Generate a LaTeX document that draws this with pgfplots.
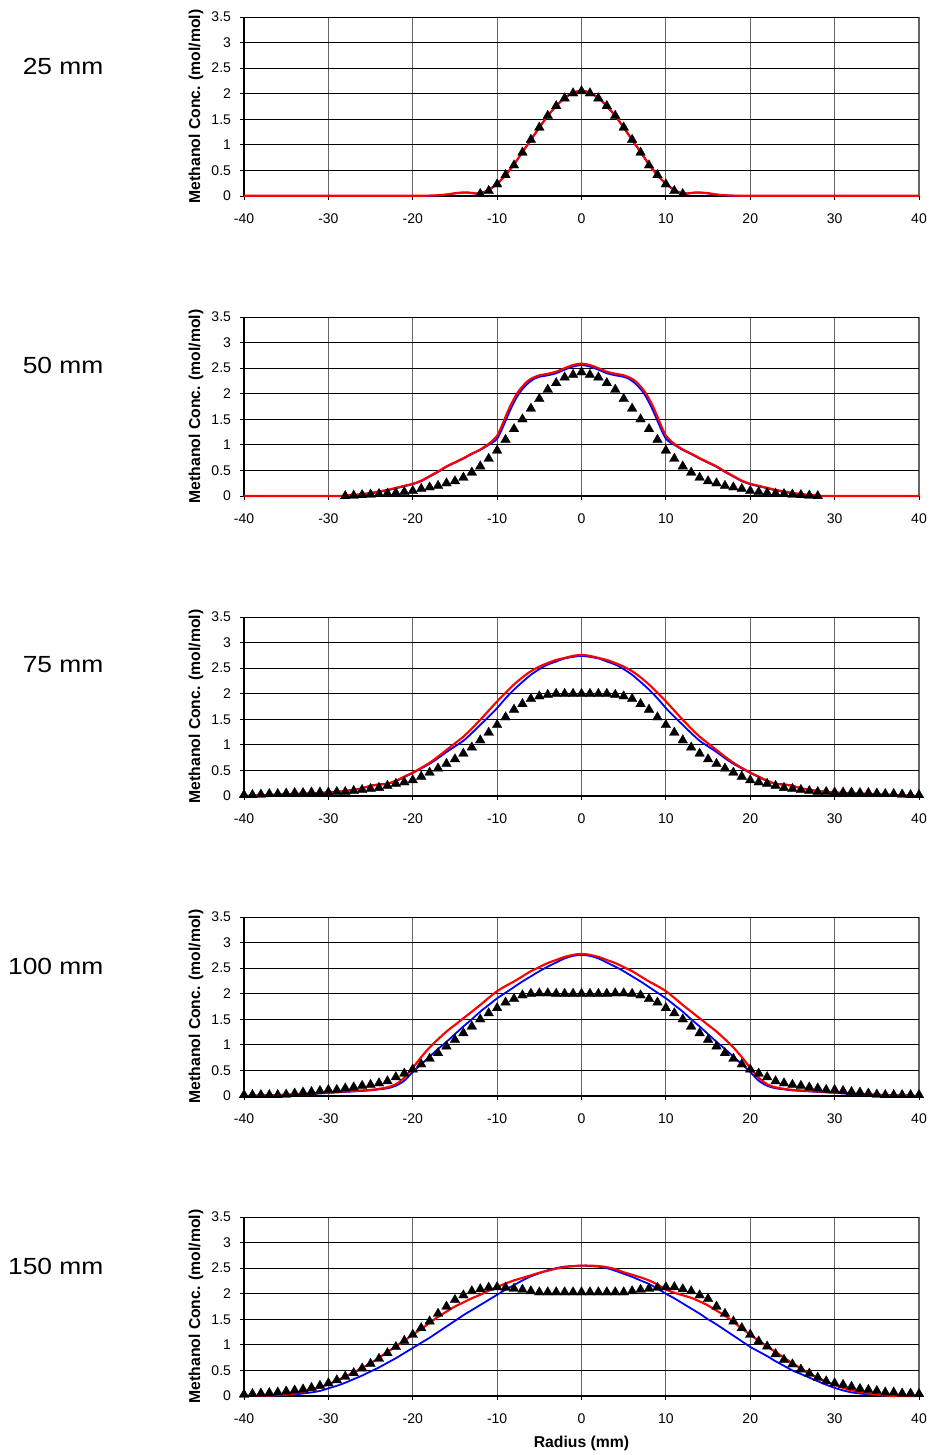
\documentclass[border=0pt]{standalone}
\usepackage{fontspec}
\setmainfont{Liberation Sans}
\usepackage{pgfplots}
\pgfplotsset{compat=1.18}

\definecolor{simred}{RGB}{255,0,0}
\definecolor{simblue}{RGB}{0,0,255}

% height label to the left of each panel
\tikzset{tag/.style={anchor=east, xscale=1.13, font=\fontsize{17.5pt}{20pt}\selectfont}}

% one panel: radial profile of methanol concentration at a given height
\pgfplotsset{
  panel/.style={
    scale only axis,
    width=506.25pt, height=134.25pt,
    anchor=south west,
    xmin=-40, xmax=40, ymin=0, ymax=3.5,
    xtick={-40,-30,...,40},
    ytick={0,0.5,1,1.5,2,2.5,3,3.5},
    yticklabels={0,0.5,1,1.5,2,2.5,3,3.5},
    axis lines=left,
    axis line style={-, black, line width=0.8pt},
    tick align=outside,
    major tick length=3pt,
    tick style={black, line width=0.6pt},
    grid=major,
    x grid style={black!60, line width=0.8pt},
    y grid style={black, line width=0.6pt},
    /pgf/number format/assume math mode=true,
    ticklabel style={font=\fontsize{10.5pt}{12pt}\selectfont},
    xticklabel style={yshift=-7pt},
    yticklabel style={xshift=-3.25pt},
    ylabel={Methanol Conc. (mol/mol)},
    ylabel style={at={(axis description cs:-0.0711,0.5)}, anchor=center,
      rotate=0, font=\bfseries\fontsize{11.8pt}{13pt}\selectfont},
    clip=false,
  },
  blueline/.style={simblue, line width=1.35pt, no markers, smooth},
  redline/.style={simred, line width=1.6pt, no markers, smooth},
  meas/.style={only marks, mark=triangle*, mark size=4.2pt,
    mark options={fill=black, draw=black, line width=0.2pt}},
}

\begin{document}
\begin{tikzpicture}
\useasboundingbox (0pt,0pt) rectangle (697.5pt,-1091.25pt);

% ---------------- 25 mm ----------------
\node[tag] at (81.5pt,-49.5pt) {25 mm};
\begin{axis}[panel, at={(183pt,-147pt)}]
\addplot[blueline] coordinates {
(-40,0.0)(-30,0.0)(-20,0.0)(-18,0.003)(-17,0.01)(-16,0.025)(-15,0.05)(-14,0.065)(-13.5,0.065)(-13,0.055)(-12.5,0.045)(-12,0.055)(-11.5,0.075)(-11,0.115)(-10,0.235)(-9,0.405)(-8,0.615)(-7,0.855)(-6,1.095)(-5,1.335)(-4,1.565)(-3,1.755)(-2,1.915)(-1,2.015)(0,2.055)
(1,2.015)(2,1.915)(3,1.755)(4,1.565)(5,1.335)(6,1.095)(7,0.855)(8,0.615)(9,0.405)(10,0.235)(11,0.115)(11.5,0.075)(12,0.055)(12.5,0.045)(13,0.055)(13.5,0.065)(14,0.065)(15,0.05)(16,0.025)(17,0.01)(18,0.003)(20,0.0)(30,0.0)(40,0.0)};
\addplot[redline] coordinates {
(-40,0.005)(-30,0.005)(-20,0.005)(-18,0.008)(-17,0.015)(-16,0.03)(-15,0.055)(-14,0.07)(-13.5,0.07)(-13,0.06)(-12.5,0.05)(-12,0.06)(-11.5,0.08)(-11,0.12)(-10,0.24)(-9,0.41)(-8,0.62)(-7,0.86)(-6,1.10)(-5,1.34)(-4,1.57)(-3,1.76)(-2,1.92)(-1,2.02)(0,2.06)
(1,2.02)(2,1.92)(3,1.76)(4,1.57)(5,1.34)(6,1.10)(7,0.86)(8,0.62)(9,0.41)(10,0.24)(11,0.12)(11.5,0.08)(12,0.06)(12.5,0.05)(13,0.06)(13.5,0.07)(14,0.07)(15,0.055)(16,0.03)(17,0.015)(18,0.008)(20,0.005)(30,0.005)(40,0.005)};
\addplot[meas] coordinates {
(-12,0.04)(-11,0.10)(-10,0.23)(-9,0.41)(-8,0.60)(-7,0.85)(-6,1.10)(-5,1.34)(-4,1.57)(-3,1.76)(-2,1.91)(-1,2.01)(0,2.05)
(1,2.01)(2,1.91)(3,1.76)(4,1.57)(5,1.34)(6,1.10)(7,0.85)(8,0.60)(9,0.41)(10,0.23)(11,0.10)(12,0.04)};
\end{axis}

% ---------------- 50 mm ----------------
\node[tag] at (81.5pt,-273.75pt) {50 mm};
\begin{axis}[panel, at={(183pt,-372pt)}]
\addplot[blueline] coordinates {
(-40,0.0)(-29,0.0)(-28,0.005)(-27,0.015)(-26,0.03)(-25,0.05)(-24,0.08)(-23,0.11)(-22,0.15)(-21,0.19)(-20,0.23)(-19,0.29)(-18,0.38)(-17,0.47)(-16,0.57)(-15,0.65)(-14,0.73)(-13,0.82)(-12,0.90)(-11,1.00)(-10.5,1.05)(-10,1.12)(-9.5,1.28)(-9,1.47)(-8.5,1.66)(-8,1.83)(-7.5,1.98)(-7,2.09)(-6.5,2.18)(-6,2.25)(-5.5,2.30)(-5,2.33)(-4,2.36)(-3,2.40)(-2,2.47)(-1,2.53)(0,2.56)
(1,2.53)(2,2.47)(3,2.40)(4,2.36)(5,2.33)(5.5,2.30)(6,2.25)(6.5,2.18)(7,2.09)(7.5,1.98)(8,1.83)(8.5,1.66)(9,1.47)(9.5,1.28)(10,1.12)(10.5,1.05)(11,1.00)(12,0.90)(13,0.82)(14,0.73)(15,0.65)(16,0.57)(17,0.47)(18,0.38)(19,0.29)(20,0.23)(21,0.19)(22,0.15)(23,0.11)(24,0.08)(25,0.05)(26,0.03)(27,0.015)(28,0.005)(29,0.0)(40,0.0)};
\addplot[redline] coordinates {
(-40,0.0)(-29,0.0)(-28,0.01)(-27,0.02)(-26,0.04)(-25,0.06)(-24,0.09)(-23,0.12)(-22,0.16)(-21,0.20)(-20,0.24)(-19,0.30)(-18,0.39)(-17,0.48)(-16,0.58)(-15,0.66)(-14,0.74)(-13,0.83)(-12,0.91)(-11,1.02)(-10.5,1.09)(-10,1.18)(-9.5,1.35)(-9,1.55)(-8.5,1.74)(-8,1.90)(-7.5,2.04)(-7,2.14)(-6.5,2.23)(-6,2.29)(-5.5,2.33)(-5,2.36)(-4,2.39)(-3,2.43)(-2,2.50)(-1,2.56)(0,2.59)
(1,2.56)(2,2.50)(3,2.43)(4,2.39)(5,2.36)(5.5,2.33)(6,2.29)(6.5,2.23)(7,2.14)(7.5,2.04)(8,1.90)(8.5,1.74)(9,1.55)(9.5,1.35)(10,1.18)(10.5,1.09)(11,1.02)(12,0.91)(13,0.83)(14,0.74)(15,0.66)(16,0.58)(17,0.48)(18,0.39)(19,0.30)(20,0.24)(21,0.20)(22,0.16)(23,0.12)(24,0.09)(25,0.06)(26,0.04)(27,0.02)(28,0.01)(29,0.0)(40,0.0)};
\addplot[meas] coordinates {
(-28,0.00)(-27,0.01)(-26,0.02)(-25,0.03)(-24,0.04)(-23,0.05)(-22,0.06)(-21,0.08)(-20,0.10)(-19,0.14)(-18,0.17)(-17,0.20)(-16,0.25)(-15,0.29)(-14,0.36)(-13,0.46)(-12,0.58)(-11,0.73)(-10,0.89)(-9,1.10)(-8,1.31)(-7,1.50)(-6,1.71)(-5,1.90)(-4,2.08)(-3,2.21)(-2,2.32)(-1,2.37)(0,2.42)
(1,2.37)(2,2.32)(3,2.21)(4,2.08)(5,1.90)(6,1.71)(7,1.50)(8,1.31)(9,1.10)(10,0.89)(11,0.73)(12,0.58)(13,0.46)(14,0.36)(15,0.29)(16,0.25)(17,0.20)(18,0.17)(19,0.14)(20,0.10)(21,0.08)(22,0.06)(23,0.05)(24,0.04)(25,0.03)(26,0.02)(27,0.01)(28,0.00)};
\end{axis}

% ---------------- 75 mm ----------------
\node[tag] at (81.5pt,-498.75pt) {75 mm};
\begin{axis}[panel, at={(183pt,-597pt)}]
\addplot[blueline] coordinates {
(-40,0.0)(-37,0.02)(-34,0.04)(-31,0.06)(-29,0.08)(-28,0.10)(-27,0.12)(-26,0.15)(-25,0.20)(-24,0.23)(-23,0.24)(-22,0.29)(-21,0.37)(-20,0.45)(-19,0.54)(-18,0.63)(-17,0.74)(-16,0.86)(-15,0.97)(-14,1.08)(-13,1.23)(-12,1.39)(-11,1.55)(-10,1.72)(-9,1.91)(-8,2.08)(-7,2.23)(-6,2.37)(-5,2.48)(-4,2.57)(-3,2.63)(-2,2.69)(-1,2.72)(0,2.74)
(1,2.72)(2,2.69)(3,2.63)(4,2.57)(5,2.48)(6,2.37)(7,2.23)(8,2.08)(9,1.91)(10,1.72)(11,1.55)(12,1.39)(13,1.23)(14,1.08)(15,0.97)(16,0.86)(17,0.74)(18,0.63)(19,0.54)(20,0.45)(21,0.37)(22,0.29)(23,0.24)(24,0.23)(25,0.20)(26,0.15)(27,0.12)(28,0.10)(29,0.08)(31,0.06)(34,0.04)(37,0.02)(40,0.0)};
\addplot[redline] coordinates {
(-40,0.0)(-37,0.02)(-34,0.04)(-31,0.06)(-29,0.08)(-28,0.10)(-27,0.12)(-26,0.15)(-25,0.20)(-24,0.22)(-23,0.24)(-22,0.30)(-21,0.38)(-20,0.46)(-19,0.55)(-18,0.65)(-17,0.77)(-16,0.90)(-15,1.03)(-14,1.16)(-13,1.32)(-12,1.49)(-11,1.67)(-10,1.85)(-9,2.02)(-8,2.18)(-7,2.32)(-6,2.44)(-5,2.53)(-4,2.60)(-3,2.66)(-2,2.70)(-1,2.74)(0,2.76)
(1,2.74)(2,2.70)(3,2.66)(4,2.60)(5,2.53)(6,2.44)(7,2.32)(8,2.18)(9,2.02)(10,1.85)(11,1.67)(12,1.49)(13,1.32)(14,1.16)(15,1.03)(16,0.90)(17,0.77)(18,0.65)(19,0.55)(20,0.46)(21,0.38)(22,0.30)(23,0.24)(24,0.22)(25,0.20)(26,0.15)(27,0.12)(28,0.10)(29,0.08)(31,0.06)(34,0.04)(37,0.02)(40,0.0)};
\addplot[meas] coordinates {
(-40,0.02)(-39,0.02)(-38,0.03)(-37,0.04)(-36,0.04)(-35,0.05)(-34,0.06)(-33,0.06)(-32,0.07)(-31,0.07)(-30,0.07)(-29,0.08)(-28,0.08)(-27,0.10)(-26,0.12)(-25,0.14)(-24,0.16)(-23,0.20)(-22,0.24)(-21,0.27)(-20,0.31)(-19,0.38)(-18,0.46)(-17,0.54)(-16,0.63)(-15,0.72)(-14,0.83)(-13,0.95)(-12,1.09)(-11,1.24)(-10,1.39)(-9,1.54)(-8,1.69)(-7,1.80)(-6,1.90)(-5,1.95)(-4,1.98)(-3,2.00)(-2,2.00)(-1,2.00)(0,2.00)
(1,2.00)(2,2.00)(3,2.00)(4,1.98)(5,1.95)(6,1.90)(7,1.80)(8,1.69)(9,1.54)(10,1.39)(11,1.24)(12,1.09)(13,0.95)(14,0.83)(15,0.72)(16,0.63)(17,0.54)(18,0.46)(19,0.38)(20,0.31)(21,0.27)(22,0.24)(23,0.20)(24,0.16)(25,0.14)(26,0.12)(27,0.10)(28,0.08)(29,0.08)(30,0.07)(31,0.07)(32,0.07)(33,0.06)(34,0.06)(35,0.05)(36,0.04)(37,0.04)(38,0.03)(39,0.02)(40,0.02)};
\end{axis}

% ---------------- 100 mm ----------------
\node[tag] at (81.5pt,-724.5pt) {100 mm};
\begin{axis}[panel, at={(183pt,-822pt)}]
\addplot[blueline] coordinates {
(-40,0.0)(-36,0.02)(-33,0.03)(-30,0.06)(-27,0.09)(-25,0.11)(-24,0.13)(-23,0.15)(-22,0.20)(-21,0.30)(-20,0.47)(-19,0.62)(-18,0.77)(-17,0.92)(-16,1.06)(-15,1.21)(-14,1.36)(-13,1.50)(-12,1.65)(-11,1.78)(-10,1.91)(-9,2.02)(-8,2.13)(-7,2.24)(-6,2.34)(-5,2.44)(-4,2.53)(-3,2.61)(-2,2.69)(-1,2.74)(0,2.76)
(1,2.74)(2,2.69)(3,2.61)(4,2.53)(5,2.44)(6,2.34)(7,2.24)(8,2.13)(9,2.02)(10,1.91)(11,1.78)(12,1.65)(13,1.50)(14,1.36)(15,1.21)(16,1.06)(17,0.92)(18,0.77)(19,0.62)(20,0.47)(21,0.30)(22,0.20)(23,0.15)(24,0.13)(25,0.11)(27,0.09)(30,0.06)(33,0.03)(36,0.02)(40,0.0)};
\addplot[redline] coordinates {
(-40,0.0)(-36,0.02)(-33,0.04)(-30,0.07)(-27,0.10)(-25,0.12)(-24,0.14)(-23,0.17)(-22,0.23)(-21,0.36)(-20,0.55)(-19,0.76)(-18,0.95)(-17,1.11)(-16,1.26)(-15,1.39)(-14,1.52)(-13,1.65)(-12,1.78)(-11,1.92)(-10,2.05)(-9,2.15)(-8,2.24)(-7,2.34)(-6,2.44)(-5,2.52)(-4,2.60)(-3,2.66)(-2,2.72)(-1,2.76)(0,2.78)
(1,2.76)(2,2.72)(3,2.66)(4,2.60)(5,2.52)(6,2.44)(7,2.34)(8,2.24)(9,2.15)(10,2.05)(11,1.92)(12,1.78)(13,1.65)(14,1.52)(15,1.39)(16,1.26)(17,1.11)(18,0.95)(19,0.76)(20,0.55)(21,0.36)(22,0.23)(23,0.17)(24,0.14)(25,0.12)(27,0.10)(30,0.07)(33,0.04)(36,0.02)(40,0.0)};
\addplot[meas] coordinates {
(-40,0.02)(-39,0.02)(-38,0.02)(-37,0.02)(-36,0.02)(-35,0.03)(-34,0.05)(-33,0.07)(-32,0.08)(-31,0.10)(-30,0.12)(-29,0.12)(-28,0.15)(-27,0.17)(-26,0.20)(-25,0.22)(-24,0.25)(-23,0.29)(-22,0.37)(-21,0.44)(-20,0.52)(-19,0.62)(-18,0.73)(-17,0.84)(-16,0.97)(-15,1.10)(-14,1.23)(-13,1.36)(-12,1.50)(-11,1.62)(-10,1.72)(-9,1.83)(-8,1.90)(-7,1.97)(-6,2.00)(-5,2.01)(-4,2.01)(-3,2.00)(-2,2.00)(-1,2.00)(0,2.00)
(1,2.00)(2,2.00)(3,2.00)(4,2.01)(5,2.01)(6,2.00)(7,1.97)(8,1.90)(9,1.83)(10,1.72)(11,1.62)(12,1.50)(13,1.36)(14,1.23)(15,1.10)(16,0.97)(17,0.84)(18,0.73)(19,0.62)(20,0.52)(21,0.44)(22,0.37)(23,0.29)(24,0.25)(25,0.22)(26,0.20)(27,0.17)(28,0.15)(29,0.12)(30,0.12)(31,0.10)(32,0.08)(33,0.07)(34,0.05)(35,0.03)(36,0.02)(37,0.02)(38,0.02)(39,0.02)(40,0.02)};
\end{axis}

% ---------------- 150 mm ----------------
\node[tag] at (81.5pt,-949.5pt) {150 mm};
\begin{axis}[panel, at={(183pt,-1047pt)},
  xlabel={Radius (mm)},
  xlabel style={at={(axis description cs:0.5,-0.2626)}, anchor=center,
    font=\bfseries\fontsize{11.8pt}{13pt}\selectfont}]
\addplot[blueline] coordinates {
(-40,0.0)(-36,0.01)(-35,0.02)(-34,0.03)(-33,0.05)(-32,0.07)(-31,0.10)(-30,0.15)(-29,0.20)(-28,0.26)(-27,0.33)(-26,0.40)(-25,0.48)(-24,0.56)(-23,0.65)(-22,0.74)(-21,0.84)(-20,0.94)(-19,1.04)(-18,1.14)(-17,1.25)(-16,1.36)(-15,1.47)(-14,1.58)(-13,1.68)(-12,1.78)(-11,1.88)(-10,1.98)(-9,2.08)(-8,2.17)(-7,2.26)(-6,2.34)(-5,2.40)(-4,2.46)(-3,2.50)(-2,2.53)(-1,2.54)(0,2.55)
(1,2.54)(2,2.53)(3,2.50)(4,2.45)(5,2.39)(6,2.33)(7,2.26)(8,2.19)(9,2.10)(10,2.00)(11,1.91)(12,1.81)(13,1.71)(14,1.61)(15,1.50)(16,1.40)(17,1.29)(18,1.18)(19,1.07)(20,0.96)(21,0.87)(22,0.78)(23,0.68)(24,0.59)(25,0.50)(26,0.43)(27,0.36)(28,0.29)(29,0.22)(30,0.16)(31,0.11)(32,0.07)(33,0.05)(34,0.03)(35,0.02)(36,0.01)(38,0.0)(40,0.0)};
\addplot[redline] coordinates {
(-40,0.0)(-37,0.01)(-35,0.03)(-34,0.05)(-33,0.08)(-32,0.12)(-31,0.17)(-30,0.23)(-29,0.30)(-28,0.38)(-27,0.46)(-26,0.55)(-25,0.64)(-24,0.75)(-23,0.86)(-22,0.97)(-21,1.08)(-20,1.20)(-19,1.31)(-18,1.43)(-17,1.55)(-16,1.65)(-15,1.75)(-14,1.83)(-13,1.91)(-12,1.98)(-11,2.06)(-10,2.13)(-9,2.20)(-8,2.26)(-7,2.31)(-6,2.36)(-5,2.41)(-4,2.45)(-3,2.49)(-2,2.52)(-1,2.54)(0,2.55)
(1,2.55)(2,2.54)(3,2.52)(4,2.48)(5,2.42)(6,2.37)(7,2.32)(8,2.26)(9,2.18)(10,2.08)(11,2.02)(12,1.97)(13,1.92)(14,1.85)(15,1.77)(16,1.67)(17,1.57)(18,1.45)(19,1.32)(20,1.20)(21,1.08)(22,0.97)(23,0.86)(24,0.75)(25,0.64)(26,0.54)(27,0.44)(28,0.36)(29,0.28)(30,0.22)(31,0.16)(32,0.11)(33,0.08)(34,0.05)(35,0.03)(36,0.01)(37,0.0)(40,0.0)};
\addplot[meas] coordinates {
(-40,0.03)(-39,0.04)(-38,0.05)(-37,0.06)(-36,0.07)(-35,0.09)(-34,0.11)(-33,0.13)(-32,0.16)(-31,0.20)(-30,0.25)(-29,0.31)(-28,0.38)(-27,0.45)(-26,0.54)(-25,0.63)(-24,0.73)(-23,0.84)(-22,0.96)(-21,1.08)(-20,1.20)(-19,1.33)(-18,1.46)(-17,1.61)(-16,1.75)(-15,1.88)(-14,1.97)(-13,2.05)(-12,2.09)(-11,2.12)(-10,2.13)(-9,2.12)(-8,2.10)(-7,2.08)(-6,2.05)(-5,2.03)(-4,2.03)(-3,2.03)(-2,2.03)(-1,2.03)(0,2.03)
(1,2.03)(2,2.03)(3,2.03)(4,2.03)(5,2.03)(6,2.05)(7,2.08)(8,2.10)(9,2.12)(10,2.13)(11,2.13)(12,2.09)(13,2.05)(14,1.97)(15,1.90)(16,1.75)(17,1.61)(18,1.46)(19,1.33)(20,1.20)(21,1.07)(22,0.97)(23,0.82)(24,0.71)(25,0.62)(26,0.52)(27,0.44)(28,0.36)(29,0.29)(30,0.25)(31,0.22)(32,0.18)(33,0.14)(34,0.12)(35,0.10)(36,0.07)(37,0.07)(38,0.05)(39,0.05)(40,0.04)};
\end{axis}
\end{tikzpicture}
\end{document}
